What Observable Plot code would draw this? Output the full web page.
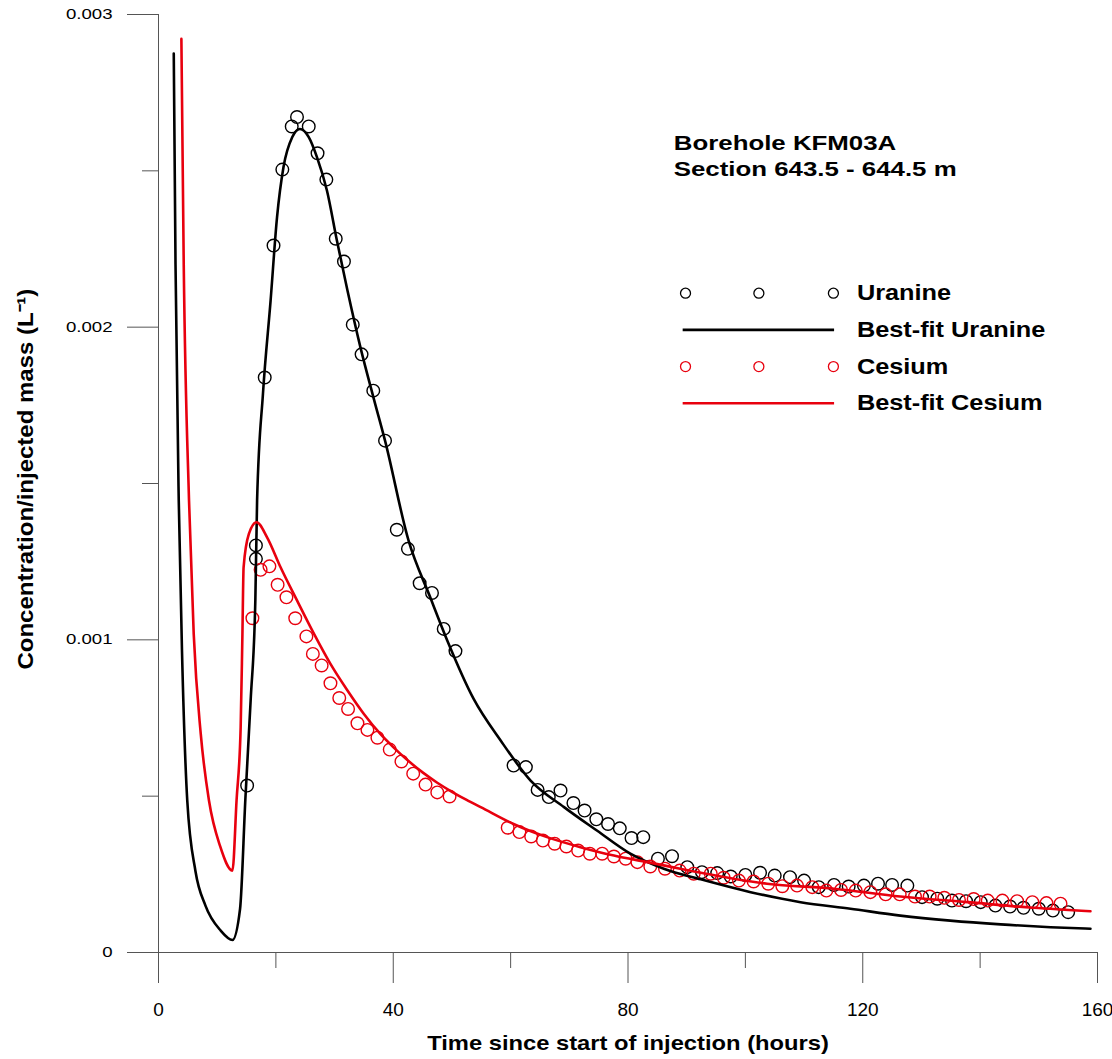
<!DOCTYPE html>
<html><head><meta charset="utf-8">
<script src="https://cdn.jsdelivr.net/npm/d3@7"></script>
<script src="https://cdn.jsdelivr.net/npm/@observablehq/plot@0.6"></script>
<style>body{margin:0;background:#fff}</style>
</head><body>
<div id="chart"></div>
<script>
// ---- data ----
const uranineX = [15.1,16.6,16.6,18.1,19.6,21.1,22.7,23.6,25.6,27.1,28.6,30.2,31.6,33.1,34.6,36.6,38.6,40.6,42.5,44.5,46.6,48.6,50.6,60.5,62.6,64.6,66.5,68.5,70.7,72.6,74.6,76.6,78.6,80.6,82.6,85.1,87.5,90.1,92.6,95.2,97.5,100.0,102.5,105.0,107.6,110.0,112.5,115.1,117.6,120.2,122.6,125.0,127.6,130.1,132.7,135.2,137.6,140.1,142.6,145.1,147.4,150.0,152.4,155.0];
const uranineY = [0.000534,0.001302,0.001259,0.001839,0.002261,0.002504,0.002642,0.002672,0.002642,0.002556,0.002472,0.002283,0.00221,0.002008,0.001913,0.001797,0.001637,0.001352,0.001291,0.001181,0.00115,0.001035,0.000964,0.000598,0.000593,0.00052,0.000497,0.000518,0.000478,0.000454,0.000426,0.000411,0.000397,0.000366,0.000369,0.0003,0.000308,0.000273,0.000257,0.000254,0.000243,0.000248,0.000255,0.000246,0.000241,0.00023,0.000209,0.000216,0.000211,0.000214,0.00022,0.000216,0.000214,0.000177,0.000172,0.000166,0.000164,0.000161,0.00015,0.000147,0.000143,0.00014,0.000134,0.000129];

const cesiumX = [16.0,17.4,18.9,20.3,21.8,23.3,25.2,26.3,27.8,29.3,30.8,32.3,33.9,35.6,37.3,39.4,41.4,43.4,45.5,47.5,49.6,59.5,61.5,63.5,65.5,67.5,69.5,71.5,73.5,75.6,77.6,79.6,81.6,83.8,86.3,88.8,91.2,94.1,96.3,98.9,101.4,103.9,106.3,108.8,111.4,113.8,116.3,118.8,121.3,123.9,126.3,128.9,131.4,133.9,136.4,138.9,141.3,143.8,146.3,148.9,151.3,153.7];
const cesiumY = [0.001069,0.001224,0.001235,0.001176,0.001136,0.001069,0.001011,0.000955,0.000918,0.000861,0.000814,0.000779,0.000733,0.000712,0.000687,0.000649,0.000611,0.000572,0.000537,0.000512,0.000499,0.000399,0.000385,0.000371,0.000358,0.000348,0.000339,0.000326,0.000316,0.000316,0.000307,0.0003,0.000289,0.000275,0.000268,0.000262,0.000252,0.000252,0.000239,0.00023,0.000227,0.00022,0.000212,0.000214,0.000209,0.000198,0.0002,0.000198,0.000193,0.000186,0.000186,0.000179,0.000179,0.000175,0.000168,0.000171,0.000166,0.000166,0.000164,0.000161,0.000158,0.000156];

const uranineFitX = [2.6,2.9,3.45,4.0,4.9,6.3,8.0,10.6,12.6,13.9,14.8,15.7,16.5,16.8,17.8,19.1,20.2,21.3,22.8,24.1,25.6,27.0,28.7,30.4,32.2,34.4,36.7,38.6,42.6,46.3,49.2,53.7,58.3,63.4,69.1,74.7,80.4,86.1,92.4,100.9,109.4,117.9,126.4,134.9,143.5,152.0,158.8];
const uranineFitY = [0.002875,0.0022,0.001446,0.000966,0.000486,0.00026,0.00015,0.00007,0.00004,0.00014,0.00049,0.000806,0.001126,0.001446,0.001787,0.002085,0.002352,0.002512,0.002608,0.002634,0.002608,0.002544,0.002437,0.002277,0.002117,0.001936,0.00177,0.001637,0.001318,0.001136,0.000998,0.000811,0.000678,0.00055,0.000465,0.00039,0.000316,0.000268,0.000234,0.000193,0.000161,0.00014,0.000118,0.000102,0.00009,0.000081,0.000076];

const cesiumFitX = [3.9,4.3,5.2,6.0,7.2,8.6,10.5,12.6,13.3,14.0,14.3,14.5,15.4,16.7,18.5,20.8,23.6,26.5,29.3,32.2,35.0,37.8,40.0,42.5,45.0,47.5,50.0,52.5,54.9,60.5,66.2,71.9,77.6,83.3,88.9,92.4,103.7,115.1,126.4,137.8,149.1,158.8];
const cesiumFitY = [0.002922,0.0022,0.001446,0.001019,0.000699,0.000486,0.00034,0.000262,0.000486,0.00072,0.001019,0.001232,0.001339,0.001376,0.001328,0.001232,0.001126,0.001019,0.000923,0.000838,0.000763,0.000699,0.000657,0.000614,0.000576,0.000543,0.000514,0.000488,0.000465,0.000411,0.000369,0.000337,0.00031,0.000289,0.000268,0.000255,0.00022,0.000204,0.000179,0.000161,0.000143,0.000132];

const xMajorTicks = [0,40,80,120,160];
const xMinorTicks = [20,60,100,140];
const yMajorTicks = [0,0.001,0.002,0.003];
const yMinorTicks = [0.0005,0.0015,0.0025];

const titleLines = ["Borehole KFM03A","Section 643.5 - 644.5 m"];
const legendLabels = ["Uranine","Best-fit Uranine","Cesium","Best-fit Cesium"];
const xTitle = "Time since start of injection (hours)";
const yTitle = "Concentration/injected mass (L⁻¹)";

// ---- build ----
const BLACK = "#000000", RED = "#e8000e", AXIS = "#555555";
const zip = (xs, ys) => xs.map((x, i) => ({x, y: ys[i]}));
const uranine = zip(uranineX, uranineY);
const cesium = zip(cesiumX, cesiumY);
const uranineFit = zip(uranineFitX, uranineFitY);
const cesiumFit = zip(cesiumFitX, cesiumFitY);

// layout of annotations (in data units)
const titleX = 87.8, titleY0 = 0.002589, titleStep = 0.000085;
const titleData = titleLines.map((t, i) => ({t, x: titleX, y: titleY0 - i * titleStep}));
const legY0 = 0.0021086, legStep = 0.0001173;
const legSymX = [89.8, 102.3, 115.0], legLine = [89.4, 115.2], legTextX = 119.0;
const legRows = legendLabels.map((t, i) => ({t, x: legTextX, y: legY0 - i * legStep}));
const legDots = row => legSymX.map(x => ({x, y: legRows[row].y}));

const fmtY = d => d === 0 ? "0" : d3.format(".3f")(d);

const svg = Plot.plot({
  width: 1112, height: 1059,
  marginLeft: 158, marginRight: 15, marginTop: 14, marginBottom: 107,
  x: {domain: [0, 160]},
  y: {domain: [0, 0.003]},
  style: {fontFamily: "'Liberation Sans', Arial, sans-serif", background: "#fff", color: "#000"},
  marks: [
    Plot.ruleY([0], {x1: 0, x2: 160, stroke: AXIS, strokeWidth: 1}),
    Plot.ruleX([0], {y1: 0, y2: 0.003, stroke: AXIS, strokeWidth: 1}),
    Plot.axisY(yMinorTicks, {tickSize: 16, tickFormat: () => "", label: null, stroke: AXIS}),
    Plot.axisY(yMajorTicks, {tickSize: 31, tickPadding: 15, tickFormat: fmtY, fontSize: 14, label: null, stroke: AXIS}),
    Plot.axisX(xMinorTicks, {tickSize: 16, tickFormat: () => "", label: null, stroke: AXIS}),
    Plot.axisX(xMajorTicks, {tickSize: 31, tickPadding: 19, fontSize: 19, label: null, stroke: AXIS}),
    Plot.dot(uranine, {x: "x", y: "y", r: 6.3, stroke: BLACK, strokeWidth: 1.4, fill: "none"}),
    Plot.dot(cesium, {x: "x", y: "y", r: 6.3, stroke: RED, strokeWidth: 1.4, fill: "none"}),
    Plot.line(uranineFit, {x: "x", y: "y", stroke: BLACK, strokeWidth: 2.6, curve: "monotone-x"}),
    Plot.line(cesiumFit, {x: "x", y: "y", stroke: RED, strokeWidth: 2.6, curve: "monotone-x"}),
    // annotation
    Plot.text(titleData, {x: "x", y: "y", text: "t", textAnchor: "start", fontSize: 21, fontWeight: "bold", fill: BLACK}),
    // legend
    Plot.dot(legDots(0), {x: "x", y: "y", r: 5, stroke: BLACK, strokeWidth: 1.3, fill: "none"}),
    Plot.ruleY([legRows[1]], {y: "y", x1: legLine[0], x2: legLine[1], stroke: BLACK, strokeWidth: 2.6}),
    Plot.dot(legDots(2), {x: "x", y: "y", r: 5, stroke: RED, strokeWidth: 1.3, fill: "none"}),
    Plot.ruleY([legRows[3]], {y: "y", x1: legLine[0], x2: legLine[1], stroke: RED, strokeWidth: 2.6}),
    Plot.text(legRows, {x: "x", y: "y", text: "t", textAnchor: "start", fontSize: 22, fontWeight: "bold", fill: BLACK}),
    // axis titles
    Plot.text([xTitle], {frameAnchor: "bottom", dy: 97, fontSize: 21, fontWeight: "bold", fill: BLACK}),
    Plot.text([yTitle], {frameAnchor: "left", dx: -133, dy: 186, rotate: -90, textAnchor: "start", fontSize: 22, fontWeight: "bold", fill: BLACK})
  ]
});
document.getElementById("chart").appendChild(svg);

// widen text horizontally to match the reference's proportions
function setStretch(el, k) {
  const target = el.querySelector("tspan") || el;
  const w = target.getComputedTextLength();
  if (w > 0) {
    target.setAttribute("textLength", w * k);
    target.setAttribute("lengthAdjust", "spacingAndGlyphs");
  }
}
const factors = new Map();
titleLines.forEach(t => factors.set(t, 1.23));
legendLabels.forEach(t => factors.set(t, 1.15));
factors.set(xTitle, 1.13);
factors.set(yTitle, 1.09);
svg.querySelectorAll("text").forEach(el => {
  const s = el.textContent;
  if (factors.has(s)) setStretch(el, factors.get(s));
  else if (getComputedStyle(el).textAnchor === "end" && s !== "") setStretch(el, 1.33);
});
</script>
</body></html>
